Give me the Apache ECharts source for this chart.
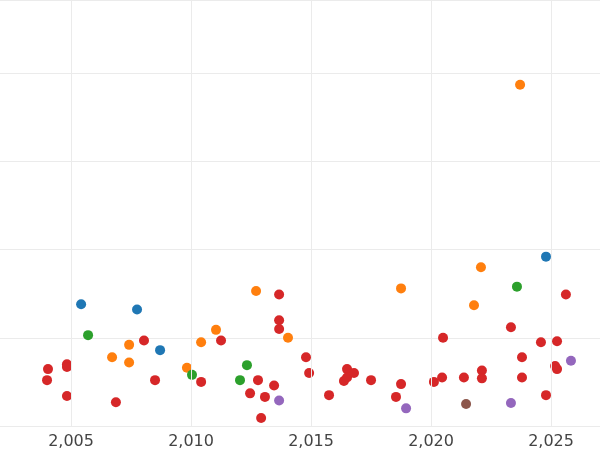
<!DOCTYPE html>
<html><head><meta charset="utf-8">
<script src="https://cdn.jsdelivr.net/npm/echarts@6/dist/echarts.min.js"></script>
<style>html,body{margin:0;padding:0;background:#fff}#c{width:600px;height:450px}</style>
</head><body><div id="c"></div>
<script>
const red = [[2004.04,0.645],[2004.0,0.52],[2004.83,0.70],[2004.83,0.67],[2004.83,0.34],[2006.87,0.27],[2008.04,0.97],[2008.5,0.52],[2010.42,0.50],[2011.25,0.97],[2012.46,0.37],[2012.79,0.52],[2012.92,0.09],[2013.08,0.33],[2013.46,0.46],[2013.67,1.49],[2013.67,1.20],[2013.67,1.10],[2014.79,0.78],[2014.92,0.60],[2015.75,0.35],[2016.37,0.51],[2016.5,0.645],[2016.5,0.55],[2016.79,0.60],[2017.5,0.52],[2018.54,0.33],[2018.75,0.475],[2020.12,0.50],[2020.46,0.55],[2020.5,1.0],[2021.37,0.55],[2022.12,0.63],[2022.12,0.54],[2023.33,1.12],[2023.79,0.78],[2023.79,0.55],[2024.58,0.95],[2024.79,0.35],[2025.17,0.68],[2025.25,0.96],[2025.25,0.645],[2025.62,1.49]];
const orange = [[2006.71,0.78],[2007.42,0.92],[2007.42,0.72],[2009.83,0.66],[2010.42,0.95],[2011.04,1.09],[2012.71,1.53],[2014.04,1.0],[2018.75,1.56],[2021.79,1.37],[2022.08,1.80],[2023.71,3.87]];
const blue = [[2005.42,1.38],[2007.75,1.32],[2008.71,0.86],[2024.79,1.92]];
const green = [[2005.71,1.03],[2010.04,0.58],[2012.04,0.52],[2012.33,0.69],[2023.58,1.58]];
const purple = [[2013.67,0.29],[2018.96,0.20],[2023.33,0.26],[2025.83,0.74]];
const brown = [[2021.46,0.25]];
const xTicks = [2005,2010,2015,2020,2025];
const mk = (d,c)=>({type:'scatter',data:d,symbolSize:10,itemStyle:{color:c,opacity:1},z:3});
const grid = mk([], '#000');
grid.markLine = {silent:true,symbol:'none',label:{show:false},lineStyle:{color:'#ebebeb',type:'solid',width:1},
  data:xTicks.map(v=>({xAxis:v}))};
grid.z = 1;
echarts.init(document.getElementById('c')).setOption({
  animation:false,
  grid:{left:0,right:0,top:0,height:427},
  xAxis:{type:'value',min:2002.04,max:2027.04,
    axisLine:{show:false},axisTick:{show:false},
    axisLabel:{fontSize:16,color:'#444',margin:8,fontFamily:'DejaVu Sans',customValues:xTicks},
    splitLine:{show:false}},
  yAxis:{type:'value',min:0,max:4.83,interval:1,axisLine:{show:false},axisTick:{show:false},axisLabel:{show:false},
    splitLine:{lineStyle:{color:'#ebebeb',width:1}}},
  series:[grid,mk(red,'#d62728'),mk(orange,'#ff7f0e'),mk(blue,'#1f77b4'),mk(green,'#2ca02c'),mk(purple,'#9467bd'),mk(brown,'#8c564b')]
});
</script></body></html>
